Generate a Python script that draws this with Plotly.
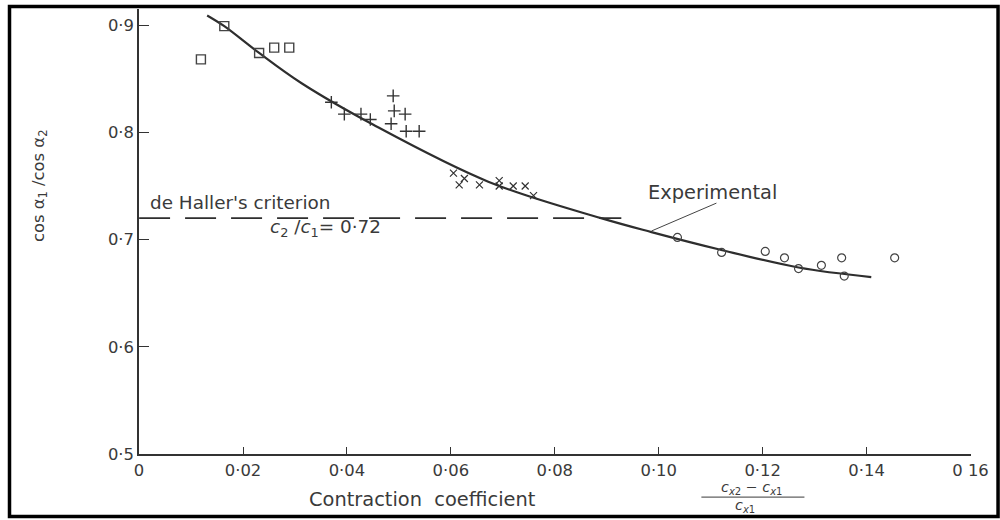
import plotly.graph_objects as go

# ---- data ----
sq_x = [0.0119, 0.0164, 0.0231, 0.0260, 0.0289]
sq_y = [0.868, 0.899, 0.874, 0.879, 0.879]

plus_x = [0.0370, 0.0395, 0.0427, 0.0445, 0.0485, 0.0489, 0.0491, 0.0512, 0.0514, 0.0539]
plus_y = [0.828, 0.817, 0.817, 0.812, 0.808, 0.834, 0.820, 0.817, 0.801, 0.801]

cross_x = [0.0605, 0.0626, 0.0616, 0.0655, 0.0693, 0.0693, 0.0720, 0.0743, 0.0759]
cross_y = [0.762, 0.757, 0.751, 0.751, 0.755, 0.750, 0.750, 0.750, 0.741]

circ_x = [0.1036, 0.1121, 0.1205, 0.1242, 0.1269, 0.1313, 0.1352, 0.1357, 0.1454]
circ_y = [0.702, 0.688, 0.689, 0.683, 0.673, 0.676, 0.683, 0.666, 0.683]

curve_x = [0.0131, 0.0164, 0.0231, 0.0312, 0.0451, 0.0672, 0.0889, 0.0986, 0.1115, 0.1269, 0.1409]
curve_y = [0.909, 0.899, 0.874, 0.846, 0.807, 0.754, 0.720, 0.707, 0.691, 0.674, 0.665]

criterion_x = [0.0, 0.0928]
criterion_y = [0.72, 0.72]

x_ticks = [0, 0.02, 0.04, 0.06, 0.08, 0.10, 0.12, 0.14, 0.16]
x_ticklabels = ["0", "0·02", "0·04", "0·06", "0·08", "0·10", "0·12", "0·14", "0 16"]
y_ticks = [0.5, 0.6, 0.7, 0.8, 0.9]
y_ticklabels = ["0·5", "0·6", "0·7", "0·8", "0·9"]

INK = "#3a3a3a"
FONT = "DejaVu Sans"

# page calibration (screenshot pixel -> figure pixel)
W, H = 1024, 532
SX, SY, OX = 0.977, 0.981, 4.0

def fx(x):
    return ((x - OX) / SX) / W

def fy(y):
    return 1 - (y / SY) / H

def fs(s):
    return round(s / SX, 1)

fig = go.Figure()
fig.add_trace(go.Scatter(x=curve_x, y=curve_y, mode="lines", line=dict(color="#2e2e2e", width=2.2, shape="spline"),
                         showlegend=False, hoverinfo="skip"))
fig.add_trace(go.Scatter(x=criterion_x, y=criterion_y, mode="lines",
                         line=dict(color="#2e2e2e", width=1.6, dash="31px,15px"), showlegend=False))
fig.add_trace(go.Scatter(x=sq_x, y=sq_y, mode="markers",
                         marker=dict(symbol="square-open", size=9, color="#444", line=dict(width=1.4)), showlegend=False))
fig.add_trace(go.Scatter(x=plus_x, y=plus_y, mode="markers",
                         marker=dict(symbol="cross-thin-open", size=9, color="#333", line=dict(width=1.4)), showlegend=False))
fig.add_trace(go.Scatter(x=cross_x, y=cross_y, mode="markers",
                         marker=dict(symbol="x-thin-open", size=7, color="#333", line=dict(width=1.2)), showlegend=False))
fig.add_trace(go.Scatter(x=circ_x, y=circ_y, mode="markers",
                         marker=dict(symbol="circle-open", size=8, color="#444", line=dict(width=1.2)), showlegend=False))

fig.update_layout(
    width=W, height=H,
    margin=dict(l=0, r=0, t=0, b=0),
    paper_bgcolor="white", plot_bgcolor="white",
    font=dict(family=FONT, color=INK, size=15),
    xaxis=dict(domain=[fx(138), fx(969)], range=[0, 0.16], showgrid=False, zeroline=False,
               showline=True, linecolor="#333", linewidth=1.6, ticks="inside", ticklen=7,
               tickcolor="#333", tickwidth=1.2, tickvals=x_ticks, ticktext=x_ticklabels,
               tickfont=dict(size=fs(16), color=INK)),
    yaxis=dict(domain=[fy(454), fy(9)], range=[0.5, 0.915], showgrid=False, zeroline=False,
               showline=True, linecolor="#333", linewidth=1.6, ticks="inside", ticklen=10,
               tickcolor="#333", tickwidth=1.2, tickvals=y_ticks, ticktext=y_ticklabels,
               tickfont=dict(size=fs(16), color=INK)),
)

# outer frame
fig.add_shape(type="rect", xref="paper", yref="paper", x0=fx(8.5), x1=fx(996.5), y0=fy(516.5), y1=fy(6.5),
              line=dict(color="black", width=3.5))

# leader line for "Experimental"
fig.add_shape(type="line", xref="x", yref="y", x0=0.0986, y0=0.708, x1=0.1111, y1=0.734,
              line=dict(color="#444", width=1))

ann = []
ann.append(dict(text="de Haller's criterion", x=0.0018, y=0.735, xref="x", yref="y", xanchor="left",
                yanchor="middle", showarrow=False, font=dict(size=fs(18), color=INK)))
ann.append(dict(text="<i>c</i><sub>2</sub> /<i>c</i><sub>1</sub>= 0·72", x=0.0358, y=0.7107, xref="x", yref="y",
                xanchor="center", yanchor="middle", showarrow=False, font=dict(size=fs(18), color=INK)))
ann.append(dict(text="Experimental", x=0.0975, y=0.744, xref="x", yref="y", xanchor="left",
                yanchor="middle", showarrow=False, font=dict(size=fs(19), color=INK)))
ann.append(dict(text="cos α<sub>1</sub> /cos α<sub>2</sub>", x=fx(38), y=fy(186), xref="paper", yref="paper",
                xanchor="center", yanchor="middle",
                textangle=-90, showarrow=False, font=dict(size=fs(16), color=INK)))
ann.append(dict(text="Contraction  coefficient", x=fx(306), y=fy(499), xref="paper", yref="paper",
                xanchor="left", yanchor="middle", showarrow=False, font=dict(size=fs(19), color=INK)))
ann.append(dict(text="<i>c</i><sub><i>x</i>2</sub> − <i>c</i><sub><i>x</i>1</sub>", x=fx(750), y=fy(488),
                xref="paper", yref="paper", xanchor="center", yanchor="middle", showarrow=False,
                font=dict(size=fs(14), color=INK)))
ann.append(dict(text="<i>c</i><sub><i>x</i>1</sub>", x=fx(744), y=fy(506), xref="paper", yref="paper",
                xanchor="center", yanchor="middle", showarrow=False, font=dict(size=fs(14), color=INK)))
fig.update_layout(annotations=ann)
fig.add_shape(type="line", xref="paper", yref="paper", x0=fx(700), x1=fx(803), y0=fy(497), y1=fy(497),
              line=dict(color=INK, width=1))

fig.write_html("out.html", config={"displayModeBar": False},
               post_script="document.body.style.margin='0';document.body.style.overflow='hidden';")
